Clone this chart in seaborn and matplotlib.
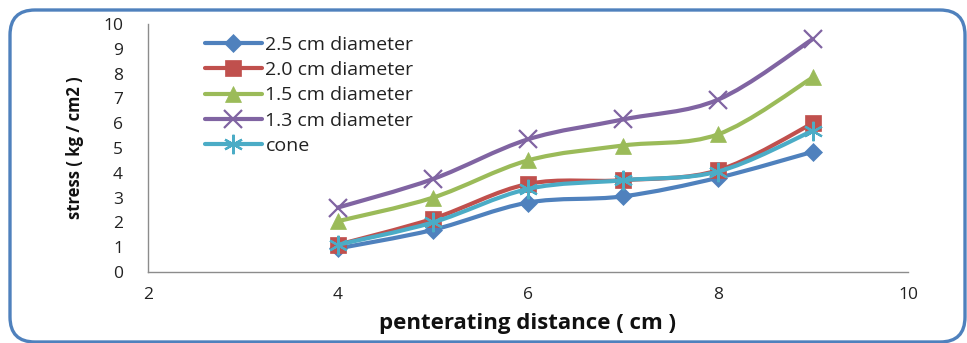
import numpy as np
import pandas as pd
import seaborn as sns
import matplotlib
matplotlib.use("Agg")
import matplotlib.pyplot as plt
from matplotlib.path import Path
from matplotlib.patches import PathPatch, FancyBboxPatch
from matplotlib.lines import Line2D

# penetration depth (cm)
distance = [4, 5, 6, 7, 8, 9]

# stress (kg/cm2) for each probe
d25 = [0.95, 1.7, 2.8, 3.05, 3.8, 4.85]
d20 = [1.1, 2.15, 3.55, 3.7, 4.1, 6.0]
d15 = [2.05, 3.0, 4.5, 5.1, 5.55, 7.85]
d13 = [2.6, 3.75, 5.35, 6.15, 6.95, 9.4]
cone = [1.1, 2.0, 3.35, 3.7, 4.05, 5.7]

series_names = ["2.5 cm diameter", "2.0 cm diameter", "1.5 cm diameter",
                "1.3 cm diameter", "cone"]
series_values = [d25, d20, d15, d13, cone]
colors = ["#4F81BD", "#C0504D", "#9BBB59", "#8064A2", "#4BACC6"]
markers = ["D", "s", "^", "x", (6, 2, 0)]
marker_sizes = [9, 12, 12, 13, 14]

df = pd.concat(
    [pd.DataFrame({"distance": distance, "stress": v, "series": n})
     for n, v in zip(series_names, series_values)],
    ignore_index=True,
)

sns.set_theme(style="white")
plt.rcParams["font.family"] = ["Open Sans", "DejaVu Sans"]

fig = plt.figure(figsize=(9.67, 3.43), dpi=100)
ax = fig.add_axes([0.153, 0.207, 0.786, 0.723])


def smooth_path(xs, ys):
    """Bezier path through the points with Excel-style smoothing."""
    pts = np.column_stack([xs, ys]).astype(float)
    n = len(pts)
    verts = [pts[0]]
    codes = [Path.MOVETO]
    for i in range(n - 1):
        p_prev = pts[i - 1] if i > 0 else pts[i]
        p0, p1 = pts[i], pts[i + 1]
        p_next = pts[i + 2] if i + 2 < n else pts[i + 1]
        c1 = p0 + (p1 - p_prev) / 6.0
        c2 = p1 - (p_next - p0) / 6.0
        verts += [c1, c2, p1]
        codes += [Path.CURVE4] * 3
    return Path(verts, codes)


handles = []
for k, (name, color, mk, ms) in enumerate(zip(series_names, colors, markers, marker_sizes)):
    sub = df[df["series"] == name]
    patch = PathPatch(smooth_path(sub["distance"], sub["stress"]),
                      facecolor="none", edgecolor=color, lw=3.0,
                      capstyle="round", joinstyle="round", zorder=2 + 2 * k)
    ax.add_patch(patch)
    line_kw = dict(marker=mk, markersize=ms, markerfacecolor=color,
                   markeredgecolor=color)
    if mk == "x" or isinstance(mk, tuple):
        line_kw["markeredgewidth"] = 1.6
    else:
        line_kw["markeredgewidth"] = 0.5
    sns.lineplot(data=sub, x="distance", y="stress", ax=ax, color=color,
                 linewidth=0, zorder=3 + 2 * k, **line_kw)
    handles.append(Line2D([0], [0], color=color, lw=3.0, **line_kw))

ax.set_xlim(2, 10)
ax.set_ylim(0, 10)
ax.set_xticks([2, 4, 6, 8, 10])
ax.set_yticks(range(0, 11))
ax.tick_params(axis="x", length=0, pad=11, labelsize=12.5, colors="#222222")
ax.tick_params(axis="y", length=0, pad=18, labelsize=12.5, colors="#222222")
for s in ["top", "right"]:
    ax.spines[s].set_visible(False)
for s in ["left", "bottom"]:
    ax.spines[s].set_color("#8C8C8C")
    ax.spines[s].set_linewidth(1.0)

ax.set_xlabel("penterating distance ( cm )", fontsize=16, fontweight="bold",
              labelpad=7, color="#111111")
ax.set_ylabel("stress ( kg / cm2 )", fontsize=12, fontweight="bold",
              labelpad=14, color="#111111")

leg = ax.legend(handles, series_names, loc="upper left",
                bbox_to_anchor=(0.060, 1.0), frameon=False, fontsize=14,
                handlelength=2.9, handletextpad=0.2, labelspacing=0.38,
                borderaxespad=0.2)
for t in leg.get_texts():
    t.set_color("#222222")

# rounded chart-area border
border = FancyBboxPatch((0.10, 0.01), 9.55, 3.32,
                        boxstyle="round,pad=0,rounding_size=0.25",
                        transform=fig.dpi_scale_trans, facecolor="none",
                        edgecolor="#4F81BD", lw=2.4, zorder=0)
fig.patches.append(border)

fig.savefig("out.png", dpi=100)
